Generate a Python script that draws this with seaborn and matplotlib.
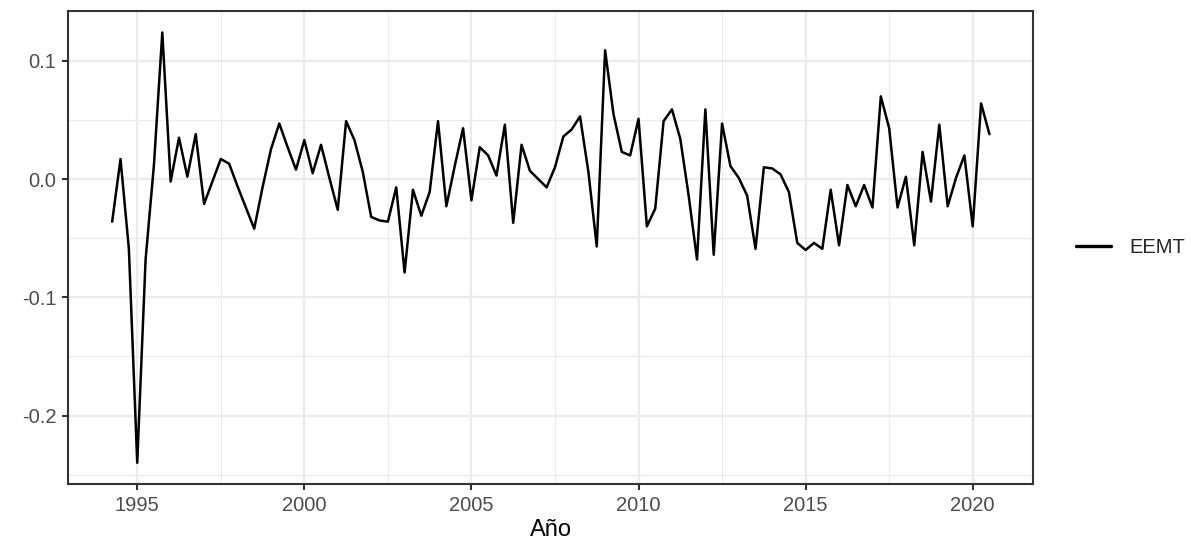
import matplotlib
matplotlib.use("Agg")
import matplotlib.pyplot as plt
import seaborn as sns
import numpy as np
import pandas as pd

# Quarterly series starting 1994 Q2
start_year = 1994.25
series_name = "EEMT"
values = [
    -0.036, 0.017, -0.059,
    -0.240, -0.068, 0.012, 0.124,
    -0.002, 0.035, 0.002, 0.038,
    -0.021, -0.002, 0.017, 0.013,
    -0.006, -0.024, -0.042, -0.007,
    0.025, 0.047, 0.027, 0.008,
    0.033, 0.005, 0.029, 0.001,
    -0.026, 0.049, 0.033, 0.006,
    -0.032, -0.035, -0.036, -0.007,
    -0.079, -0.009, -0.031, -0.011,
    0.049, -0.023, 0.011, 0.043,
    -0.018, 0.027, 0.020, 0.003,
    0.046, -0.037, 0.029, 0.007,
    0.000, -0.007, 0.010, 0.036,
    0.042, 0.053, 0.006, -0.057,
    0.109, 0.055, 0.023, 0.020,
    0.051, -0.040, -0.025, 0.049,
    0.059, 0.034, -0.014, -0.068,
    0.059, -0.064, 0.047, 0.011,
    0.001, -0.014, -0.059, 0.010,
    0.009, 0.004, -0.011, -0.054,
    -0.060, -0.054, -0.059, -0.009,
    -0.056, -0.005, -0.023, -0.005,
    -0.024, 0.070, 0.043, -0.024,
    0.002, -0.056, 0.023, -0.019,
    0.046, -0.023, 0.001, 0.020,
    -0.040, 0.064, 0.038,
]
x_ticks = [1995, 2000, 2005, 2010, 2015, 2020]
y_ticks = [-0.2, -0.1, 0.0, 0.1]
y_tick_labels = ["-0.2", "-0.1", "0.0", "0.1"]
x_label = "Año"

t = start_year + 0.25 * np.arange(len(values))
df = pd.DataFrame({"t": t, "v": values, "serie": series_name})

sns.set_theme(style="white")
plt.rcParams["font.family"] = ["Liberation Sans", "DejaVu Sans"]

fig = plt.figure(figsize=(11.91, 5.44), dpi=100)
ax = fig.add_axes([68.3 / 1191, 1 - 484.3 / 544, (1033.3 - 68.3) / 1191, (484.3 - 11) / 544])

sns.lineplot(data=df, x="t", y="v", hue="serie", palette=["black"], linewidth=1.8, ax=ax, legend=True)

# ggplot-style 5% expansion
xr = t.max() - t.min()
ax.set_xlim(t.min() - 0.05 * xr, t.max() + 0.05 * xr)
vmin, vmax = min(values), max(values)
yr = vmax - vmin
ax.set_ylim(vmin - 0.05 * yr, vmax + 0.05 * yr)

ax.set_xticks(x_ticks)
ax.set_xticklabels([str(v) for v in x_ticks])
ax.set_yticks(y_ticks)
ax.set_yticklabels(y_tick_labels)
ax.set_xticks([1997.5, 2002.5, 2007.5, 2012.5, 2017.5], minor=True)
ax.set_yticks([-0.25, -0.15, -0.05, 0.05], minor=True)

ax.grid(True, which="major", color="#EBEBEB", linewidth=1.6)
ax.grid(True, which="minor", color="#EBEBEB", linewidth=0.8)
ax.set_axisbelow(True)

for s in ax.spines.values():
    s.set_color("#333333")
    s.set_linewidth(1.5)

ax.tick_params(axis="both", which="major", length=4.5, width=1.5, color="#333333",
               labelsize=14.5, labelcolor="#4D4D4D", pad=4, direction="out")
ax.tick_params(axis="both", which="minor", length=0)
ax.tick_params(axis="x", bottom=True)
ax.tick_params(axis="y", left=True)

ax.set_xlabel(x_label, fontsize=17, color="black", labelpad=3)
ax.set_ylabel("")

leg = ax.legend(loc="center left", bbox_to_anchor=(1.025, 0.5), frameon=False,
                fontsize=14.5, handlelength=1.75, handletextpad=0.9, title=None)
for line in leg.get_lines():
    line.set_linewidth(2.4)

fig.savefig("out.png", dpi=100)
